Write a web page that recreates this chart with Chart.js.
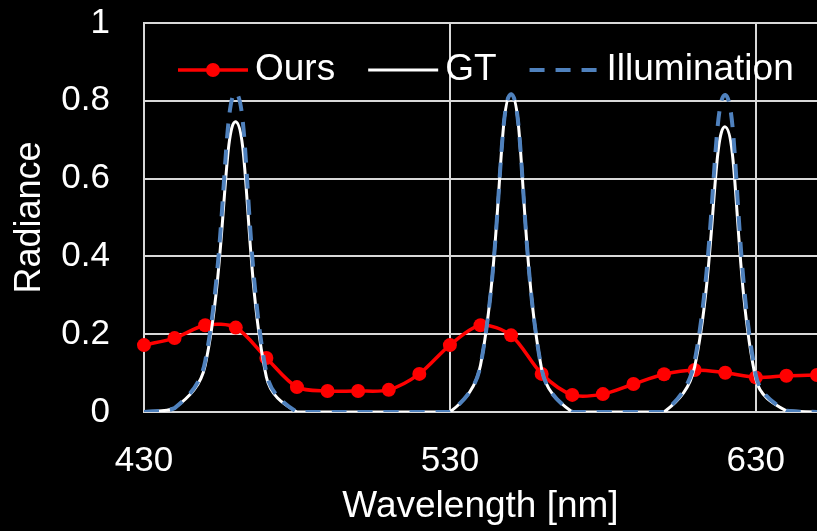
<!DOCTYPE html>
<html>
<head>
<meta charset="utf-8">
<script src="https://cdn.jsdelivr.net/npm/chart.js@4.4.0/dist/chart.umd.min.js"></script>
<style>
  html, body { margin: 0; padding: 0; background: #000; }
  #wrap { width: 817px; height: 531px; }
</style>
</head>
<body>
<div id="wrap"><canvas id="chart" width="817" height="531"></canvas></div>
<script>
// wavelength samples (nm), 10 nm steps
const wavelengths = [430, 440, 450, 460, 470, 480, 490, 500, 510, 520, 530, 540,
                     550, 560, 570, 580, 590, 600, 610, 620, 630, 640, 650];
const ours = [0.172, 0.190, 0.223, 0.217, 0.139, 0.064, 0.054, 0.054, 0.057, 0.098, 0.172, 0.223,
              0.197, 0.098, 0.044, 0.046, 0.072, 0.097, 0.108, 0.101, 0.089, 0.093, 0.095];
const gt = [0, 0.01, 0.12, 0.746, 0.09, 0, 0, 0, 0, 0, 0, 0.12,
            0.817, 0.11, 0, 0, 0, 0, 0.116, 0.733, 0.085, 0.003, 0];
const illumination = [0, 0.01, 0.13, 0.82, 0.10, 0, 0, 0, 0, 0, 0, 0.12,
                      0.817, 0.11, 0, 0, 0, 0, 0.13, 0.815, 0.095, 0.003, 0];
const seriesNames = ['Ours', 'GT', 'Illumination'];
const xTicks = [430, 530, 630];
const yTicks = [0, 0.2, 0.4, 0.6, 0.8, 1];
const yTickLabels = ['0', '0.2', '0.4', '0.6', '0.8', '1'];

const FONT = "'Liberation Sans', Arial, sans-serif";
const GRID = '#d9d9d9';
const RED = '#ff0000';
const BLUE = '#4f81bd';

const pts = ys => wavelengths.map((w, i) => ({x: w, y: ys[i]}));

// legend drawn inside the plot area, like the original
const insideLegend = {
  id: 'insideLegend',
  afterDraw(chart) {
    const ctx = chart.ctx;
    const y = chart.chartArea.top + 47;
    let x = chart.chartArea.left + 34;
    ctx.save();
    ctx.font = '37px ' + FONT;
    ctx.textBaseline = 'middle';
    ctx.fillStyle = '#fff';
    chart.data.datasets.forEach(ds => {
      ctx.save();
      ctx.strokeStyle = ds.borderColor;
      ctx.lineWidth = ds.borderWidth;
      ctx.setLineDash(ds.borderDash || []);
      ctx.beginPath();
      ctx.moveTo(x, y);
      ctx.lineTo(x + 70, y);
      ctx.stroke();
      if (ds.pointRadius > 0) {
        ctx.fillStyle = ds.pointBackgroundColor;
        ctx.beginPath();
        ctx.arc(x + 35, y, ds.pointRadius, 0, Math.PI * 2);
        ctx.fill();
      }
      ctx.restore();
      ctx.fillText(ds.label, x + 77, y);
      x += 77 + ctx.measureText(ds.label).width + 33;
    });
    ctx.restore();
  }
};

new Chart(document.getElementById('chart'), {
  type: 'line',
  data: {
    datasets: [
      {
        label: seriesNames[0], data: pts(ours),
        borderColor: RED, borderWidth: 3.5, pointRadius: 7,
        pointBackgroundColor: RED, pointBorderWidth: 0, pointHoverRadius: 7,
        tension: 0.3, clip: false, order: 3
      },
      {
        label: seriesNames[1], data: pts(gt),
        borderColor: '#fff', borderWidth: 3, pointRadius: 0,
        tension: 0.4, order: 2
      },
      {
        label: seriesNames[2], data: pts(illumination),
        borderColor: BLUE, borderWidth: 4, borderDash: [15, 11], pointRadius: 0,
        tension: 0.4, order: 1
      }
    ]
  },
  options: {
    responsive: false,
    animation: false,
    layout: {autoPadding: false, padding: {top: 23, right: 0, left: 0, bottom: 0}},
    plugins: {legend: {display: false}, tooltip: {enabled: false}},
    scales: {
      x: {
        type: 'linear', min: 430, max: 650,
        afterBuildTicks: s => { s.ticks = xTicks.map(v => ({value: v})); },
        afterFit: s => { s.height = 119; s.paddingLeft = 0; s.paddingRight = 0; },
        grid: {color: GRID, lineWidth: 2, drawTicks: false},
        border: {color: GRID, width: 2},
        ticks: {color: '#fff', font: {family: FONT, size: 35}, padding: 28, maxRotation: 0},
        title: {display: true, text: 'Wavelength [nm]', color: '#fff',
                font: {family: FONT, size: 37}, padding: {top: 0, bottom: 2}}
      },
      y: {
        min: 0, max: 1,
        afterBuildTicks: s => { s.ticks = yTicks.map(v => ({value: v})); },
        afterFit: s => { s.width = 144; s.paddingTop = 0; s.paddingBottom = 0; },
        grid: {color: GRID, lineWidth: 2, drawTicks: false},
        border: {color: GRID, width: 2},
        ticks: {color: '#fff', font: {family: FONT, size: 35}, padding: 34,
                callback: (v, i) => yTickLabels[i]},
        title: {display: true, text: 'Radiance', color: '#fff',
                font: {family: FONT, size: 36}, padding: {top: 8, bottom: 0}}
      }
    }
  },
  plugins: [insideLegend]
});
</script>
</body>
</html>
